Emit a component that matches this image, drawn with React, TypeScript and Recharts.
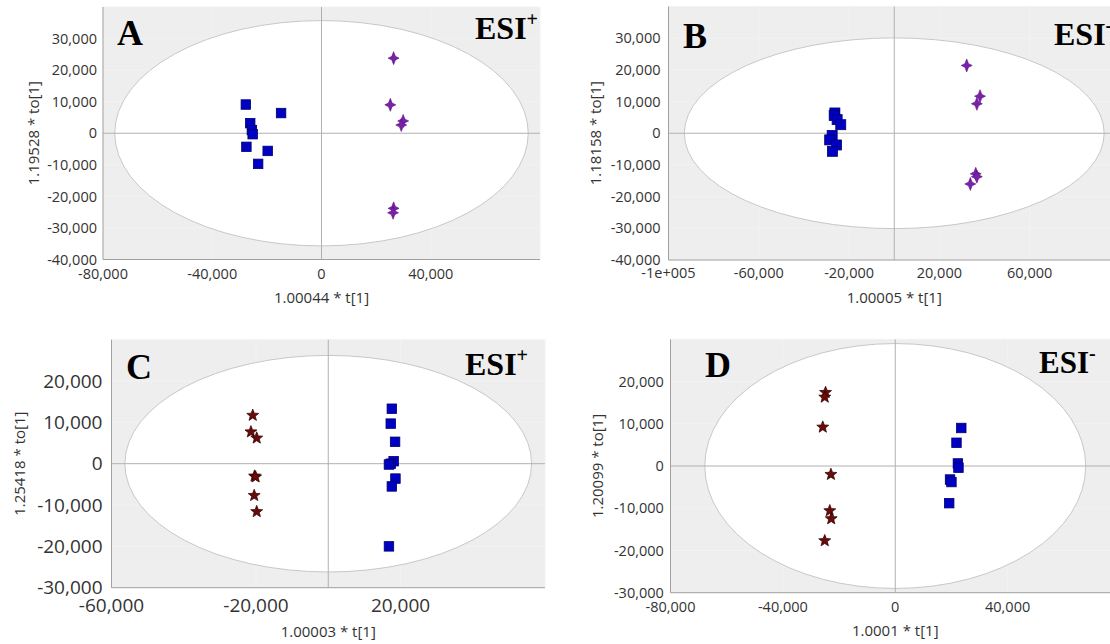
import React from 'react';
import { ScatterChart, Scatter, XAxis, YAxis, CartesianGrid, ReferenceLine, ReferenceArea } from 'recharts';

// ---- Panel A (ESI+) ----
const aTicksX = [-80000, -40000, 0, 40000];
const aTicksY = [-40000, -30000, -20000, -10000, 0, 10000, 20000, 30000];
const aSquareX = [-27700, -14800, -26100, -25500, -25200, -27500, -19700, -23200];
const aSquareY = [9100, 6400, 3200, 1000, -300, -4300, -5600, -9700];
const aStarX = [26400, 25200, 29900, 29200, 26400, 26200];
const aStarY = [23800, 9000, 3900, 2600, -23800, -25200];

// ---- Panel B (ESI-) ----
const bTicksX = [-100000, -60000, -20000, 20000, 60000];
const bLabelsX = ['-1e+005', '-60,000', '-20,000', '20,000', '60,000'];
const bTicksY = [-40000, -30000, -20000, -10000, 0, 10000, 20000, 30000];
const bSquareX = [-26300, -26600, -25300, -23700, -27500, -28600, -25600, -27400];
const bSquareY = [6400, 5600, 4300, 2700, -700, -2100, -3700, -5700];
const bStarX = [32100, 38000, 36600, 36100, 36600, 33700];
const bStarY = [21400, 11700, 9300, -12800, -13700, -16000];

// ---- Panel C (ESI+) ----
const cTicksX = [-60000, -20000, 20000];
const cTicksY = [-30000, -20000, -10000, 0, 10000, 20000];
const cStarX = [-20900, -21400, -19800, -20400, -20100, -20500, -19800];
const cStarY = [11700, 7700, 6200, -3000, -3200, -7700, -11600];
const cSquareX = [17600, 17300, 18500, 18100, 17300, 16800, 18600, 17600, 16800];
const cSquareY = [13300, 9700, 5300, 600, 0, -200, -3600, -5500, -20000];

// ---- Panel D (ESI-) ----
const dTicksX = [-80000, -40000, 0, 40000];
const dTicksY = [-30000, -20000, -10000, 0, 10000, 20000];
const dStarX = [-24800, -25100, -25800, -22900, -23300, -22800, -25100];
const dStarY = [17400, 16300, 9200, -2000, -10600, -12500, -17700];
const dSquareX = [23500, 21800, 22300, 22500, 19500, 20000, 19200];
const dSquareY = [9000, 5500, 600, -400, -3200, -3800, -8800];

// T2 ellipse half-axes per panel
const aEllipse = [75700, 35700];
const bEllipse = [93000, 30100];
const cEllipse = [56300, 26200];
const dEllipse = [67800, 29000];

const zip = (xs: number[], ys: number[]) => xs.map((x, i) => ({ x, y: ys[i] }));
const fmt = (v: number) => v.toLocaleString('en-US');

const makeSquare = (s: number) => (p: any) => (
  <rect x={p.cx - s / 2} y={p.cy - s / 2} width={s} height={s} fill="#0000c2" stroke="#000070" strokeWidth={0.8} />
);

const Sparkle = (p: any) => {
  const { cx, cy } = p;
  const d = `M${cx},${cy - 6.5} L${cx + 1.8},${cy - 1.8} L${cx + 5.5},${cy} L${cx + 1.8},${cy + 1.8} L${cx},${cy + 6.5} L${cx - 1.8},${cy + 1.8} L${cx - 5.5},${cy} L${cx - 1.8},${cy - 1.8} Z`;
  return <path d={d} fill="#7a20aa" stroke="#581080" strokeWidth={0.6} />;
};

const Star5 = (p: any) => {
  const { cx, cy } = p;
  const pts: string[] = [];
  for (let i = 0; i < 10; i++) {
    const r = i % 2 === 0 ? 6.3 : 2.7;
    const a = -Math.PI / 2 + (i * Math.PI) / 5;
    pts.push(`${cx + r * Math.cos(a)},${cy + r * Math.sin(a)}`);
  }
  return <polygon points={pts.join(' ')} fill="#6c0a0a" stroke="#2a0000" strokeWidth={0.7} />;
};

const EllipseShape = (p: any) => {
  const { x, y, width, height } = p;
  return (
    <ellipse
      cx={x + width / 2}
      cy={y + height / 2}
      rx={Math.abs(width) / 2}
      ry={Math.abs(height) / 2}
      fill="#ffffff"
      stroke="#c8c8c8"
      strokeWidth={1}
    />
  );
};

const serif = '"Liberation Serif", "Times New Roman", serif';
const sans = '"Open Sans", "Noto Sans", sans-serif';

interface PanelProps {
  left: number;
  top: number;
  width: number;
  mTop: number;
  mRight: number;
  yWidth: number;
  xHeight: number;
  xDomain: [number, number];
  yDomain: [number, number];
  xTicks: number[];
  yTicks: number[];
  xFormat: (v: number, i: number) => string;
  tickFont: number;
  xTickMargin: number;
  yTickMargin: number;
  xTitle: string;
  yTitle: string;
  xTitleOffset: number;
  yTitleDx: number;
  ellipse: number[];
  groups: { data: { x: number; y: number }[]; shape: any }[];
  letter: string;
  letterX: number;
  letterY: number;
  esiSign: string;
  esiX: number;
  esiY: number;
  esiSize: number;
}

function Panel(p: PanelProps) {
  const tick = { fontSize: p.tickFont, fill: '#333', fontFamily: sans };
  return (
    <div style={{ position: 'absolute', left: p.left, top: p.top }}>
      <ScatterChart width={p.width} height={322} margin={{ top: p.mTop, right: p.mRight, bottom: 0, left: 0 }}>
        <CartesianGrid fill="#eeeeee" horizontal={false} vertical={false} />
        <ReferenceArea
          x1={-p.ellipse[0]}
          x2={p.ellipse[0]}
          y1={-p.ellipse[1]}
          y2={p.ellipse[1]}
          shape={EllipseShape}
          ifOverflow="visible"
        />
        <CartesianGrid stroke="#f2f2f2" />
        <ReferenceLine x={0} stroke="#b0b0b0" />
        <ReferenceLine y={0} stroke="#b0b0b0" />
        <XAxis
          type="number"
          dataKey="x"
          domain={p.xDomain}
          ticks={p.xTicks}
          allowDataOverflow
          tickFormatter={p.xFormat}
          tickLine={false}
          tickSize={6}
          tickMargin={p.xTickMargin}
          axisLine={{ stroke: '#a0a0a0' }}
          tick={tick}
          height={p.xHeight}
          interval={0}
          label={{ value: p.xTitle, position: 'insideBottom', offset: p.xTitleOffset, fontSize: 15, fill: '#333', fontFamily: sans }}
        />
        <YAxis
          type="number"
          dataKey="y"
          domain={p.yDomain}
          ticks={p.yTicks}
          allowDataOverflow
          tickFormatter={fmt}
          tickLine={false}
          tickSize={4}
          tickMargin={p.yTickMargin}
          axisLine={{ stroke: '#a0a0a0' }}
          tick={tick}
          width={p.yWidth}
          interval={0}
          label={{ value: p.yTitle, angle: -90, position: 'center', dx: p.yTitleDx, fontSize: 15, fill: '#333', fontFamily: sans }}
        />
        {p.groups.map((g, i) => (
          <Scatter key={i} data={g.data} shape={g.shape} isAnimationActive={false} />
        ))}
        <text x={p.letterX} y={p.letterY} fontFamily={serif} fontWeight="bold" fontSize={36} fill="#000">
          {p.letter}
        </text>
        <text x={p.esiX} y={p.esiY} fontFamily={serif} fontWeight="bold" fontSize={p.esiSize} fill="#000">
          ESI
          <tspan dy={-13} fontSize={20}>{p.esiSign}</tspan>
        </text>
      </ScatterChart>
    </div>
  );
}

export default function App() {
  return (
    <div style={{ position: 'absolute', left: 0, top: 0, width: 1110, height: 644, overflow: 'hidden', background: '#fff' }}>
      <Panel
        left={0}
        top={0}
        width={555}
        mTop={7}
        mRight={15}
        yWidth={103}
        xHeight={62.5}
        xDomain={[-80000, 80000]}
        yDomain={[-40000, 40000]}
        xTicks={aTicksX}
        yTicks={aTicksY}
        xFormat={fmt}
        tickFont={14.5}
        xTickMargin={3.3}
        yTickMargin={2}
        xTitle="1.00044 * t[1]"
        yTitle="1.19528 * to[1]"
        xTitleOffset={19}
        yTitleDx={-17.7}
        ellipse={aEllipse}
        groups={[
          { data: zip(aSquareX, aSquareY), shape: makeSquare(9.5) },
          { data: zip(aStarX, aStarY), shape: Sparkle },
        ]}
        letter="A"
        letterX={117}
        letterY={45}
        esiSign="+"
        esiX={475}
        esiY={39}
        esiSize={32}
      />
      <Panel
        left={555}
        top={0}
        width={565}
        mTop={6.5}
        mRight={0}
        yWidth={113.5}
        xHeight={62}
        xDomain={[-100000, 100000]}
        yDomain={[-40000, 40000]}
        xTicks={bTicksX}
        yTicks={bTicksY}
        xFormat={(v: number, i: number) => bLabelsX[i] ?? fmt(v)}
        tickFont={14.5}
        xTickMargin={2}
        yTickMargin={4}
        xTitle="1.00005 * t[1]"
        yTitle="1.18158 * to[1]"
        xTitleOffset={19}
        yTitleDx={-15.7}
        ellipse={bEllipse}
        groups={[
          { data: zip(bSquareX, bSquareY), shape: makeSquare(10) },
          { data: zip(bStarX, bStarY), shape: Sparkle },
        ]}
        letter="B"
        letterX={128}
        letterY={48}
        esiSign="-"
        esiX={499}
        esiY={45}
        esiSize={32}
      />
      <Panel
        left={0}
        top={322}
        width={555}
        mTop={17.7}
        mRight={10}
        yWidth={111.5}
        xHeight={56.3}
        xDomain={[-60000, 60000]}
        yDomain={[-30000, 30000]}
        xTicks={cTicksX}
        yTicks={cTicksY}
        xFormat={fmt}
        tickFont={19}
        xTickMargin={4.6}
        yTickMargin={5}
        xTitle="1.00003 * t[1]"
        yTitle="1.25418 * to[1]"
        xTitleOffset={6.6}
        yTitleDx={-36}
        ellipse={cEllipse}
        groups={[
          { data: zip(cStarX, cStarY), shape: Star5 },
          { data: zip(cSquareX, cSquareY), shape: makeSquare(9.5) },
        ]}
        letter="C"
        letterX={126}
        letterY={57}
        esiSign="+"
        esiX={465}
        esiY={53}
        esiSize={32}
      />
      <Panel
        left={555}
        top={322}
        width={565}
        mTop={17.3}
        mRight={0}
        yWidth={115.5}
        xHeight={51.3}
        xDomain={[-80000, 80000]}
        yDomain={[-30000, 30000]}
        xTicks={dTicksX}
        yTicks={dTicksY}
        xFormat={fmt}
        tickFont={14.5}
        xTickMargin={3.2}
        yTickMargin={2.7}
        xTitle="1.0001 * t[1]"
        yTitle="1.20099 * to[1]"
        xTitleOffset={7.6}
        yTitleDx={-15}
        ellipse={dEllipse}
        groups={[
          { data: zip(dStarX, dStarY), shape: Star5 },
          { data: zip(dSquareX, dSquareY), shape: makeSquare(9.5) },
        ]}
        letter="D"
        letterX={150}
        letterY={55}
        esiSign="-"
        esiX={484}
        esiY={51}
        esiSize={31}
      />
    </div>
  );
}
